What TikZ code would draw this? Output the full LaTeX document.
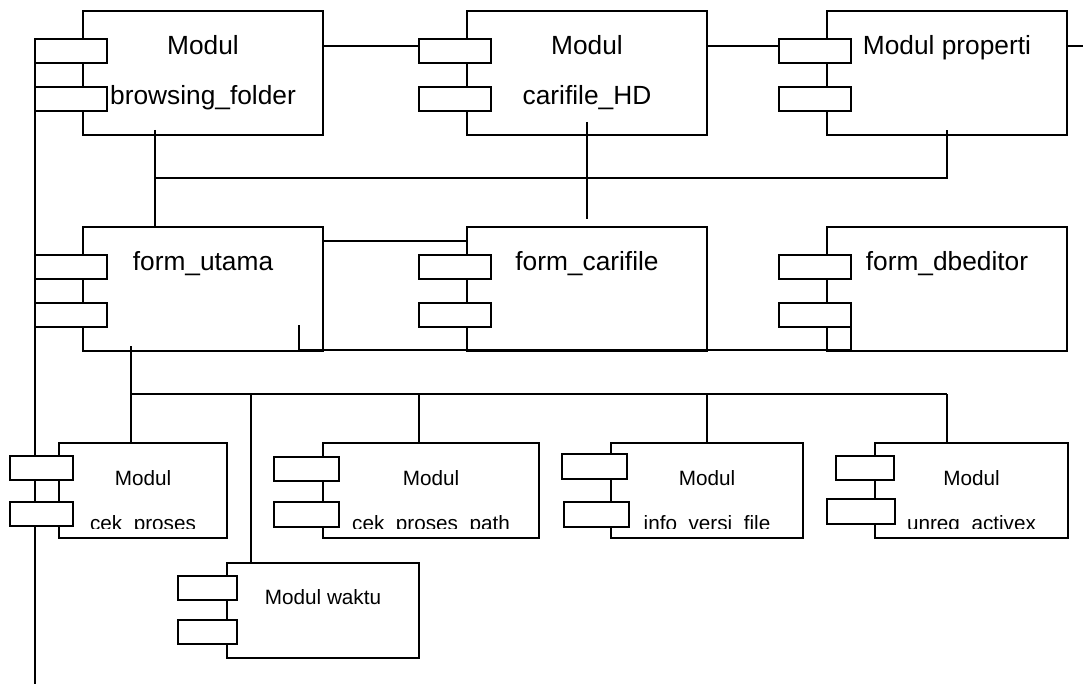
\documentclass[tikz,border=0pt]{standalone}
\usepackage{fontspec}
\setmainfont{Liberation Sans}
\usetikzlibrary{calc,backgrounds}
\tikzset{
  box/.style={draw=black, line width=1.4pt, inner sep=0pt, outer sep=0pt},
  port/.style={draw=black, fill=white, line width=1.4pt, inner sep=0pt, outer sep=0pt},
  conn/.style={draw=black, line width=1.4pt},
  bigtxt/.style={font=\fontsize{26.3}{30}\selectfont, anchor=base, inner sep=0pt},
  smalltxt/.style={font=\fontsize{20.7}{24}\selectfont, anchor=base, inner sep=0pt},
}
\begin{document}
\begin{tikzpicture}[x=1pt,y=-1pt]
\useasboundingbox (0,0) rectangle (1083,684);
% ---- top row
\node[box, minimum width=240pt, minimum height=124pt] (b1) at (203,73) {};
\node[box, minimum width=240pt, minimum height=124pt] (b2) at (587,73) {};
\node[box, minimum width=240pt, minimum height=124pt] (b3) at (947,73) {};
\node[port, minimum width=72pt, minimum height=24pt] (b1p1) at (71,51) {};
\node[port, minimum width=72pt, minimum height=24pt] (b1p2) at (71,99) {};
\node[port, minimum width=72pt, minimum height=24pt] (b2p1) at (455,51) {};
\node[port, minimum width=72pt, minimum height=24pt] (b2p2) at (455,99) {};
\node[port, minimum width=72pt, minimum height=24pt] (b3p1) at (815,51) {};
\node[port, minimum width=72pt, minimum height=24pt] (b3p2) at (815,99) {};
\node[bigtxt] (b1a) at (203,55) {Modul};
\node[bigtxt] (b1b) at (203,105) {browsing\_folder};
\node[bigtxt] (b2a) at (587,55) {Modul};
\node[bigtxt] (b2b) at (587,105) {carifile\_HD};
\node[bigtxt] (b3a) at (947,55) {Modul properti};
% ---- middle row
\node[box, minimum width=240pt, minimum height=124pt] (fu) at (203,289) {};
\node[box, minimum width=240pt, minimum height=124pt] (fc) at (587,289) {};
\node[box, minimum width=240pt, minimum height=124pt] (fd) at (947,289) {};
\node[port, minimum width=72pt, minimum height=24pt] (fup1) at (71,267) {};
\node[port, minimum width=72pt, minimum height=24pt] (fup2) at (71,315) {};
\node[port, minimum width=72pt, minimum height=24pt] (fcp1) at (455,267) {};
\node[port, minimum width=72pt, minimum height=24pt] (fcp2) at (455,315) {};
\node[port, minimum width=72pt, minimum height=24pt] (fdp1) at (815,267) {};
\node[port, minimum width=72pt, minimum height=24pt] (fdp2) at (815,315) {};
\node[bigtxt] (fut) at (203,271) {form\_utama};
\node[bigtxt] (fct) at (587,271) {form\_carifile};
\node[bigtxt] (fdt) at (947,271) {form\_dbeditor};
% ---- bottom row
\node[box, minimum width=168pt, minimum height=95pt] (m1) at (143,490.5) {};
\node[box, minimum width=216pt, minimum height=95pt] (m2) at (431,490.5) {};
\node[box, minimum width=192pt, minimum height=95pt] (m3) at (707,490.5) {};
\node[box, minimum width=193pt, minimum height=95pt] (m4) at (971.5,490.5) {};
\node[box, minimum width=192pt, minimum height=95pt] (wk) at (323,610.5) {};
\node[port, minimum width=63pt, minimum height=24pt] (m1p1) at (41.5,468) {};
\node[port, minimum width=63pt, minimum height=24pt] (m1p2) at (41.5,514) {};
\node[port, minimum width=65pt, minimum height=24pt] (m2p1) at (306.5,469) {};
\node[port, minimum width=65pt, minimum height=25pt] (m2p2) at (306.5,514.5) {};
\node[port, minimum width=65pt, minimum height=25pt] (m3p1) at (594.5,466.5) {};
\node[port, minimum width=65pt, minimum height=25pt] (m3p2) at (596.5,514.5) {};
\node[port, minimum width=58pt, minimum height=24pt] (m4p1) at (865,468) {};
\node[port, minimum width=68pt, minimum height=25pt] (m4p2) at (861,511.5) {};
\node[port, minimum width=59pt, minimum height=24pt] (wkp1) at (207.5,588) {};
\node[port, minimum width=59pt, minimum height=24pt] (wkp2) at (207.5,632) {};
\node[smalltxt] (m1a) at (143,485) {Modul};
\node[smalltxt] (m2a) at (431,485) {Modul};
\node[smalltxt] (m3a) at (707,485) {Modul};
\node[smalltxt] (m4a) at (971.5,485) {Modul};
\node[smalltxt] (wka) at (323,604) {Modul waktu};
\begin{scope}
  \clip (0,440) rectangle (1083,528);
  \node[smalltxt] (m1b) at (143,530) {cek\_proses};
  \node[smalltxt] (m2b) at (431,530) {cek\_proses\_path};
  \node[smalltxt] (m3b) at (707,530) {info\_versi\_file};
  \node[smalltxt] (m4b) at (971.5,530) {unreg\_activex};
\end{scope}
% ---- connectors
\coordinate (L1) at ([yshift=-7pt]b2p1.north west);
\coordinate (L2) at ([yshift=-7pt]b3p1.north west);
\coordinate (E3) at (1083,46);
\coordinate (E4) at (35,684);
\begin{pgfonlayer}{background}
\draw[conn] (b1.east |- L1) -- (L1);
\draw[conn] (b2.east |- L2) -- (L2);
\draw[conn] (b3.east |- E3) -- (E3);
\draw[conn] (b1p1.north west) -- (E4);
\draw[conn] ($(b1.south west)+(72,-5)$) -- ($(fu.north west)+(72,0)$);
\draw[conn] ($(b1.south west)+(72,43)$) -- ($(b3.south west)+(120,43)$) -- ($(b3.south west)+(120,-5)$);
\draw[conn] ($(b2.south)+(0,-13)$) -- ($(fc.north)+(0,-8)$);
\draw[conn] ($(fu.north east)+(0,14)$) -- ($(fc.north west)+(1,14)$);
\draw[conn] ($(fu.south east)+(-24,-26)$) -- ($(fu.south east)+(-24,-1)$) -- ($(fdp2.south east)+(0,23)$) -- (fdp2.south east);
\draw[conn] ($(fu.south west)+(48,-5)$) -- ($(fu.south west)+(48,43)$) -- ($(m4.north west)+(72,-49)$);
\draw[conn] ($(m1.north west)+(72,0)$) -- ($(m1.north west)+(72,-49)$);
\draw[conn] ($(m2.north west)+(96,0)$) -- ($(m2.north west)+(96,-49)$);
\draw[conn] (m3.north) -- ($(m3.north)+(0,-49)$);
\draw[conn] ($(m4.north west)+(72,0)$) -- ($(m4.north west)+(72,-49)$);
\draw[conn] ($(wk.north west)+(24,0)$) -- ($(wk.north west)+(24,-169)$);
\end{pgfonlayer}
\end{tikzpicture}
\end{document}
